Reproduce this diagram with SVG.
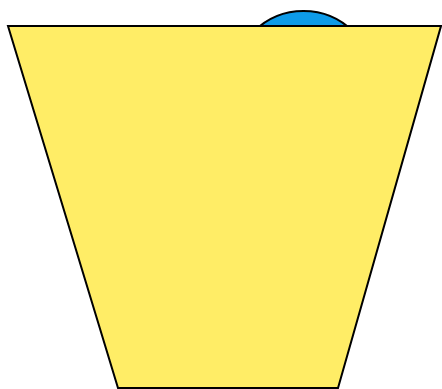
<svg xmlns="http://www.w3.org/2000/svg" width="442" height="389" viewBox="0 0 442 389">
<style>
.s{stroke:#000;stroke-width:2;stroke-linejoin:miter}
</style>
<rect width="442" height="389" fill="#fff"/>
<g id="circle"><circle class="s" cx="303.5" cy="81.5" r="70.5" fill="#0e9be8"/></g>
<g id="trapezoid"><polygon class="s" points="8,26 441,26 338,388 118,388" fill="#ffed66"/></g>
<g id="connectors"/>
</svg>
